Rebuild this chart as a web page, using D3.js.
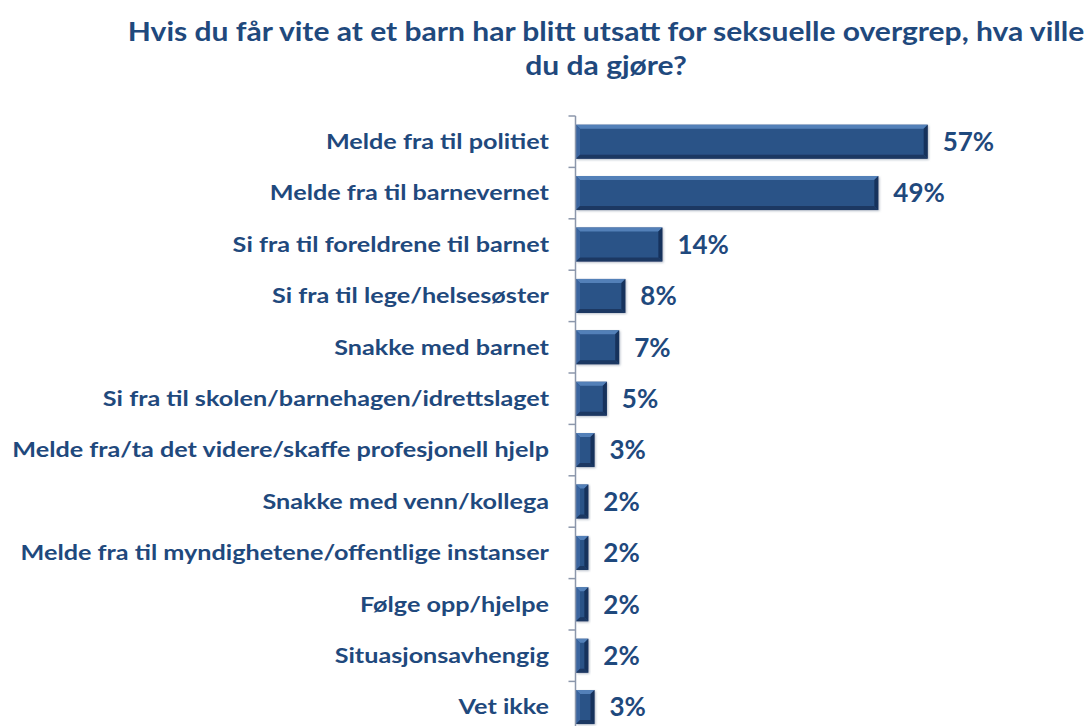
<!DOCTYPE html>
<html><head><meta charset="utf-8">
<script src="https://cdn.jsdelivr.net/npm/d3@7"></script>
<style>body{margin:0;background:#fff}svg{display:block}</style>
</head><body>
<svg id="c" width="1091" height="726"></svg>
<script>
const categories = [
  "Melde fra til politiet",
  "Melde fra til barnevernet",
  "Si fra til foreldrene til barnet",
  "Si fra til lege/helsesøster",
  "Snakke med barnet",
  "Si fra til skolen/barnehagen/idrettslaget",
  "Melde fra/ta det videre/skaffe profesjonell hjelp",
  "Snakke med venn/kollega",
  "Melde fra til myndighetene/offentlige instanser",
  "Følge opp/hjelpe",
  "Situasjonsavhengig",
  "Vet ikke"
];
const values = [57, 49, 14, 8, 7, 5, 3, 2, 2, 2, 2, 3];
const titleLines = ["Hvis du får vite at et barn har blitt utsatt for seksuelle overgrep, hva ville", "du da gjøre?"];

const svg = d3.select("#c");
const textColor = "#1F497D";
const font = "Lato, 'Open Sans', sans-serif";

// title (slightly condensed to mimic the original face)
const tG = svg.append("g");
const t1 = tG.append("text").attr("x", 0).attr("y", 0).attr("text-anchor", "middle")
  .attr("font-family", font).attr("font-weight", "bold").attr("font-size", 26)
  .attr("fill", textColor).text(titleLines[0]);
const sxT = 957 / t1.node().getComputedTextLength();
t1.attr("transform", `translate(606,41) scale(${sxT},1)`);
tG.append("text").attr("x", 0).attr("y", 0).attr("text-anchor", "middle")
  .attr("font-family", font).attr("font-weight", "bold").attr("font-size", 26)
  .attr("fill", textColor).attr("transform", `translate(606,75) scale(${sxT},1)`).text(titleLines[1]);

const x0 = 576;
const x = d3.scaleLinear().domain([0, 80]).range([x0, x0 + 80 * 6.17]);
const y = d3.scaleBand().domain(categories).range([116, 116 + 12 * 51.4]).paddingInner(0).paddingOuter(0);

const defs = svg.append("defs");
const f = defs.append("filter").attr("id", "sh").attr("x", "-10%").attr("y", "-20%").attr("width", "130%").attr("height", "150%");
f.append("feDropShadow").attr("dx", 1).attr("dy", 1).attr("stdDeviation", 1).attr("flood-color", "#8a96a8").attr("flood-opacity", 0.6);

const bh = 34;
const bw = 4;
const g = svg.append("g");
categories.forEach((c, i) => {
  const v = values[i];
  const xa = x(0), xb = x(v);
  const yt = y(c) + (y.bandwidth() - bh) / 2, yb = yt + bh;
  const gg = g.append("g").attr("filter", "url(#sh)");
  gg.append("rect").attr("x", xa).attr("y", yt).attr("width", xb - xa).attr("height", bh).attr("fill", "#2A5287");
  const b = Math.min(bw, (xb - xa) / 3);
  gg.append("polygon").attr("points", [[xa, yt], [xb, yt], [xb - b, yt + b], [xa + b, yt + b]].join(" ")).attr("fill", "#5380B8");
  gg.append("polygon").attr("points", [[xa, yt], [xa + b, yt + b], [xa + b, yb - b], [xa, yb]].join(" ")).attr("fill", "#3A659F");
  gg.append("polygon").attr("points", [[xb, yt], [xb, yb], [xb - b, yb - b], [xb - b, yt + b]].join(" ")).attr("fill", "#18325C");
  gg.append("polygon").attr("points", [[xa, yb], [xb, yb], [xb - b, yb - b], [xa + b, yb - b]].join(" ")).attr("fill", "#1B3762");
  svg.append("text").attr("x", xb + 15).attr("y", y(c) + y.bandwidth() / 2).attr("dy", "0.36em")
    .attr("font-family", font).attr("font-weight", "bold").attr("font-size", 26).attr("fill", textColor)
    .text(v + "%");
});

// axis
const axisG = svg.append("g").attr("transform", `translate(${x0 - 0.5},0)`);
axisG.append("line").attr("y1", y.range()[0]).attr("y2", y.range()[1]).attr("stroke", "#8C97AB").attr("stroke-width", 1.5);
const tickYs = categories.map(c => y(c)).concat([y.range()[1]]);
axisG.selectAll("line.t").data(tickYs).join("line").attr("class", "t")
  .attr("x1", -7).attr("x2", 0).attr("y1", d => d).attr("y2", d => d).attr("stroke", "#8C97AB").attr("stroke-width", 1.5);

// category labels (condensed horizontally to match original face)
const labels = svg.append("g").selectAll("text").data(categories).join("text")
  .attr("x", 0).attr("y", 0).attr("dy", "0.36em")
  .attr("text-anchor", "end").attr("font-family", font).attr("font-weight", "bold")
  .attr("font-size", 20).attr("fill", textColor).text(d => d);
const lenL = labels.filter(d => d === categories[6]).node().getComputedTextLength();
const sxL = 537 / lenL;
labels.attr("transform", d => `translate(549,${y(d) + y.bandwidth() / 2}) scale(${sxL},1)`);
</script>
</body></html>
